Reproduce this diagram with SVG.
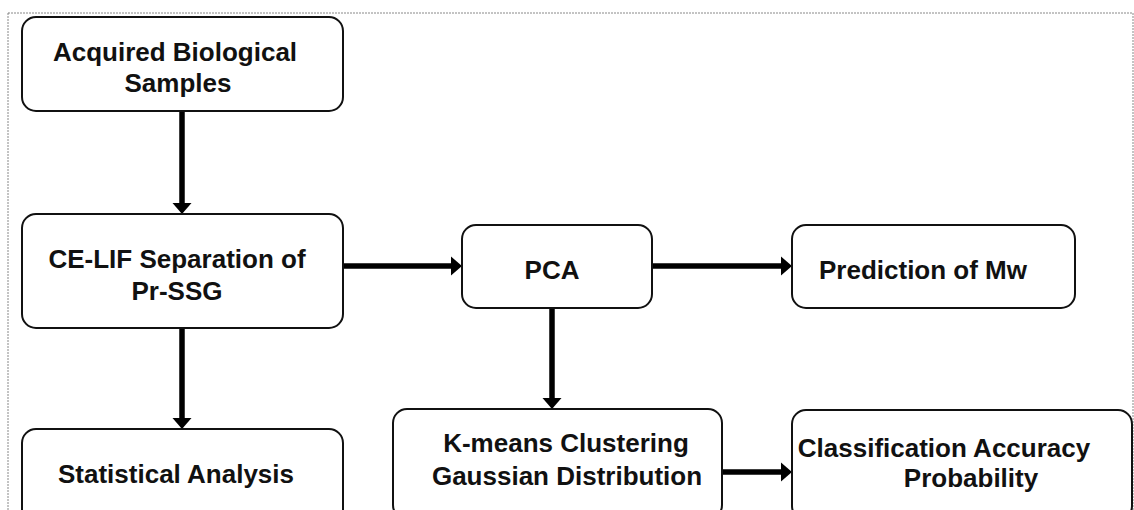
<svg xmlns="http://www.w3.org/2000/svg" width="1134" height="510" viewBox="0 0 1134 510">
<defs>
<style>
.box{fill:#fff;stroke:#111;stroke-width:2}
.t{font-family:"Liberation Sans",Arial,sans-serif;font-weight:bold;font-size:26px;fill:#111;text-anchor:middle}
.c{stroke:#000;stroke-width:5.5;fill:none}
</style>
<marker id="ah" markerUnits="userSpaceOnUse" markerWidth="12" markerHeight="22" viewBox="0 -11 12 22" refX="0" refY="0" orient="auto">
<path d="M0,-9.5 L11,0 L0,9.5 z" fill="#000"/>
</marker>
</defs>
<rect x="0" y="0" width="1134" height="510" fill="#fff"/>
<rect x="8" y="13" width="1125" height="520" fill="none" stroke="#888" stroke-width="1" stroke-dasharray="2 1"/>
<g id="connectors">
<line class="c" x1="182" y1="111" x2="182" y2="203" marker-end="url(#ah)"/>
<line class="c" x1="182" y1="328" x2="182" y2="418" marker-end="url(#ah)"/>
<line class="c" x1="343" y1="266" x2="451" y2="266" marker-end="url(#ah)"/>
<line class="c" x1="652" y1="266" x2="781" y2="266" marker-end="url(#ah)"/>
<line class="c" x1="552" y1="308" x2="552" y2="398" marker-end="url(#ah)"/>
<line class="c" x1="722" y1="472" x2="781" y2="472" marker-end="url(#ah)"/>
</g>
<g id="acquired">
<rect class="box" x="22" y="17" width="321" height="94" rx="14"/>
<text class="t" x="175" y="61">Acquired Biological</text>
<text class="t" x="178" y="92">Samples</text>
</g>
<g id="celif">
<rect class="box" x="22" y="214" width="321" height="114" rx="14"/>
<text class="t" x="177" y="268">CE-LIF Separation of</text>
<text class="t" x="177" y="300">Pr-SSG</text>
</g>
<g id="statistical">
<rect class="box" x="22" y="429" width="321" height="100" rx="14"/>
<text class="t" x="176" y="483">Statistical Analysis</text>
</g>
<g id="pca">
<rect class="box" x="462" y="225" width="190" height="83" rx="14"/>
<text class="t" x="552" y="279">PCA</text>
</g>
<g id="prediction">
<rect class="box" x="792" y="225" width="283" height="83" rx="14"/>
<text class="t" x="923" y="279">Prediction of Mw</text>
</g>
<g id="kmeans">
<rect class="box" x="393" y="409" width="329" height="110" rx="14"/>
<text class="t" x="566" y="452">K-means Clustering</text>
<text class="t" x="567" y="485">Gaussian Distribution</text>
</g>
<g id="classification">
<rect class="box" x="792" y="410" width="340" height="110" rx="14"/>
<text class="t" x="944" y="457">Classification Accuracy</text>
<text class="t" x="971" y="487">Probability</text>
</g>
</svg>
